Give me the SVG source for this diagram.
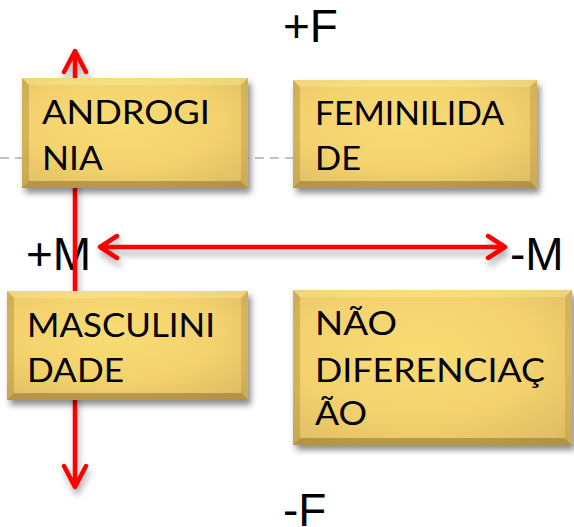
<svg xmlns="http://www.w3.org/2000/svg" width="574" height="527" viewBox="0 0 574 527">
<defs>
<radialGradient id="gold" cx="45%" cy="40%" r="75%">
<stop offset="0" stop-color="#F9DC74"/>
<stop offset="0.55" stop-color="#F3D26E"/>
<stop offset="1" stop-color="#DFBD64"/>
</radialGradient>
<filter id="sh" x="-10%" y="-10%" width="125%" height="130%">
<feDropShadow dx="3" dy="5" stdDeviation="3" flood-color="#000" flood-opacity="0.45"/>
</filter>
<filter id="ash" x="-10%" y="-50%" width="120%" height="300%">
<feDropShadow dx="2" dy="6" stdDeviation="3" flood-color="#000" flood-opacity="0.3"/>
</filter>
<style>
.lbl{font-family:Lato,"Open Sans",sans-serif;font-size:33px;fill:#000}
.axis{font-family:"Liberation Sans",Arial,sans-serif;font-size:46px;fill:#000}
.arr{stroke:#FF0000;stroke-width:4.5;fill:none;stroke-linecap:round;stroke-linejoin:round}
.bt{fill:#FFF0A0;opacity:0.35}
.bl{fill:#8A6A20;opacity:0.28}
.br{fill:#8A6A20;opacity:0.2}
.bb{fill:#6A5018;opacity:0.38}
</style>
</defs>
<rect width="574" height="527" fill="#FFFFFF"/>
<line x1="0" y1="158" x2="300" y2="158" stroke="#9FB3C6" stroke-width="1.3" stroke-dasharray="9,6"/>
<g id="axis-labels">
<text class="axis" x="283" y="42">+F</text>
<text class="axis" x="283" y="526">-F</text>
<text class="axis" x="26" y="270">+M</text>
<text class="axis" x="510" y="270">-M</text>
</g>
<g id="connectors" filter="url(#ash)">
<path class="arr" d="M75,52 L75,486 M64,72 L75,51 L86,72 M64,466 L75,487 L86,466"/>
<path class="arr" d="M101,247 L504,247 M117,236 L100,247 L117,258 M488,236 L505,247 L488,258"/>
</g>
<g id="androginia">
<g filter="url(#sh)"><rect x="22" y="78" width="226" height="110" fill="url(#gold)"/></g>
<polygon class="bt" points="22,78 248,78 241,85 29,85"/>
<polygon class="bl" points="22,78 29,85 29,181 22,188"/>
<polygon class="br" points="248,78 248,188 241,181 241,85"/>
<polygon class="bb" points="22,188 29,181 241,181 248,188"/>
<text class="lbl" x="42" y="124" textLength="168" lengthAdjust="spacingAndGlyphs">ANDROGI</text>
<text class="lbl" x="42" y="170" textLength="61" lengthAdjust="spacingAndGlyphs">NIA</text>
</g>
<g id="feminilidade">
<g filter="url(#sh)"><rect x="293" y="80" width="244" height="108" fill="url(#gold)"/></g>
<polygon class="bt" points="293,80 537,80 530,87 300,87"/>
<polygon class="bl" points="293,80 300,87 300,181 293,188"/>
<polygon class="br" points="537,80 537,188 530,181 530,87"/>
<polygon class="bb" points="293,188 300,181 530,181 537,188"/>
<text class="lbl" x="315" y="125" textLength="189" lengthAdjust="spacingAndGlyphs">FEMINILIDA</text>
<text class="lbl" x="315" y="170" textLength="46" lengthAdjust="spacingAndGlyphs">DE</text>
</g>
<g id="masculinidade">
<g filter="url(#sh)"><rect x="7" y="291" width="241" height="109" fill="url(#gold)"/></g>
<polygon class="bt" points="7,291 248,291 241,298 14,298"/>
<polygon class="bl" points="7,291 14,298 14,393 7,400"/>
<polygon class="br" points="248,291 248,400 241,393 241,298"/>
<polygon class="bb" points="7,400 14,393 241,393 248,400"/>
<text class="lbl" x="27" y="337" textLength="188" lengthAdjust="spacingAndGlyphs">MASCULINI</text>
<text class="lbl" x="27" y="382" textLength="97" lengthAdjust="spacingAndGlyphs">DADE</text>
</g>
<g id="nao-diferenciacao">
<g filter="url(#sh)"><rect x="293" y="290" width="279" height="155" fill="url(#gold)"/></g>
<polygon class="bt" points="293,290 572,290 565,297 300,297"/>
<polygon class="bl" points="293,290 300,297 300,438 293,445"/>
<polygon class="br" points="572,290 572,445 565,438 565,297"/>
<polygon class="bb" points="293,445 300,438 565,438 572,445"/>
<text class="lbl" x="315" y="335" textLength="82" lengthAdjust="spacingAndGlyphs">NÃO</text>
<text class="lbl" x="315" y="382" textLength="230" lengthAdjust="spacingAndGlyphs">DIFERENCIAÇ</text>
<text class="lbl" x="315" y="425" textLength="52" lengthAdjust="spacingAndGlyphs">ÃO</text>
</g>
</svg>
